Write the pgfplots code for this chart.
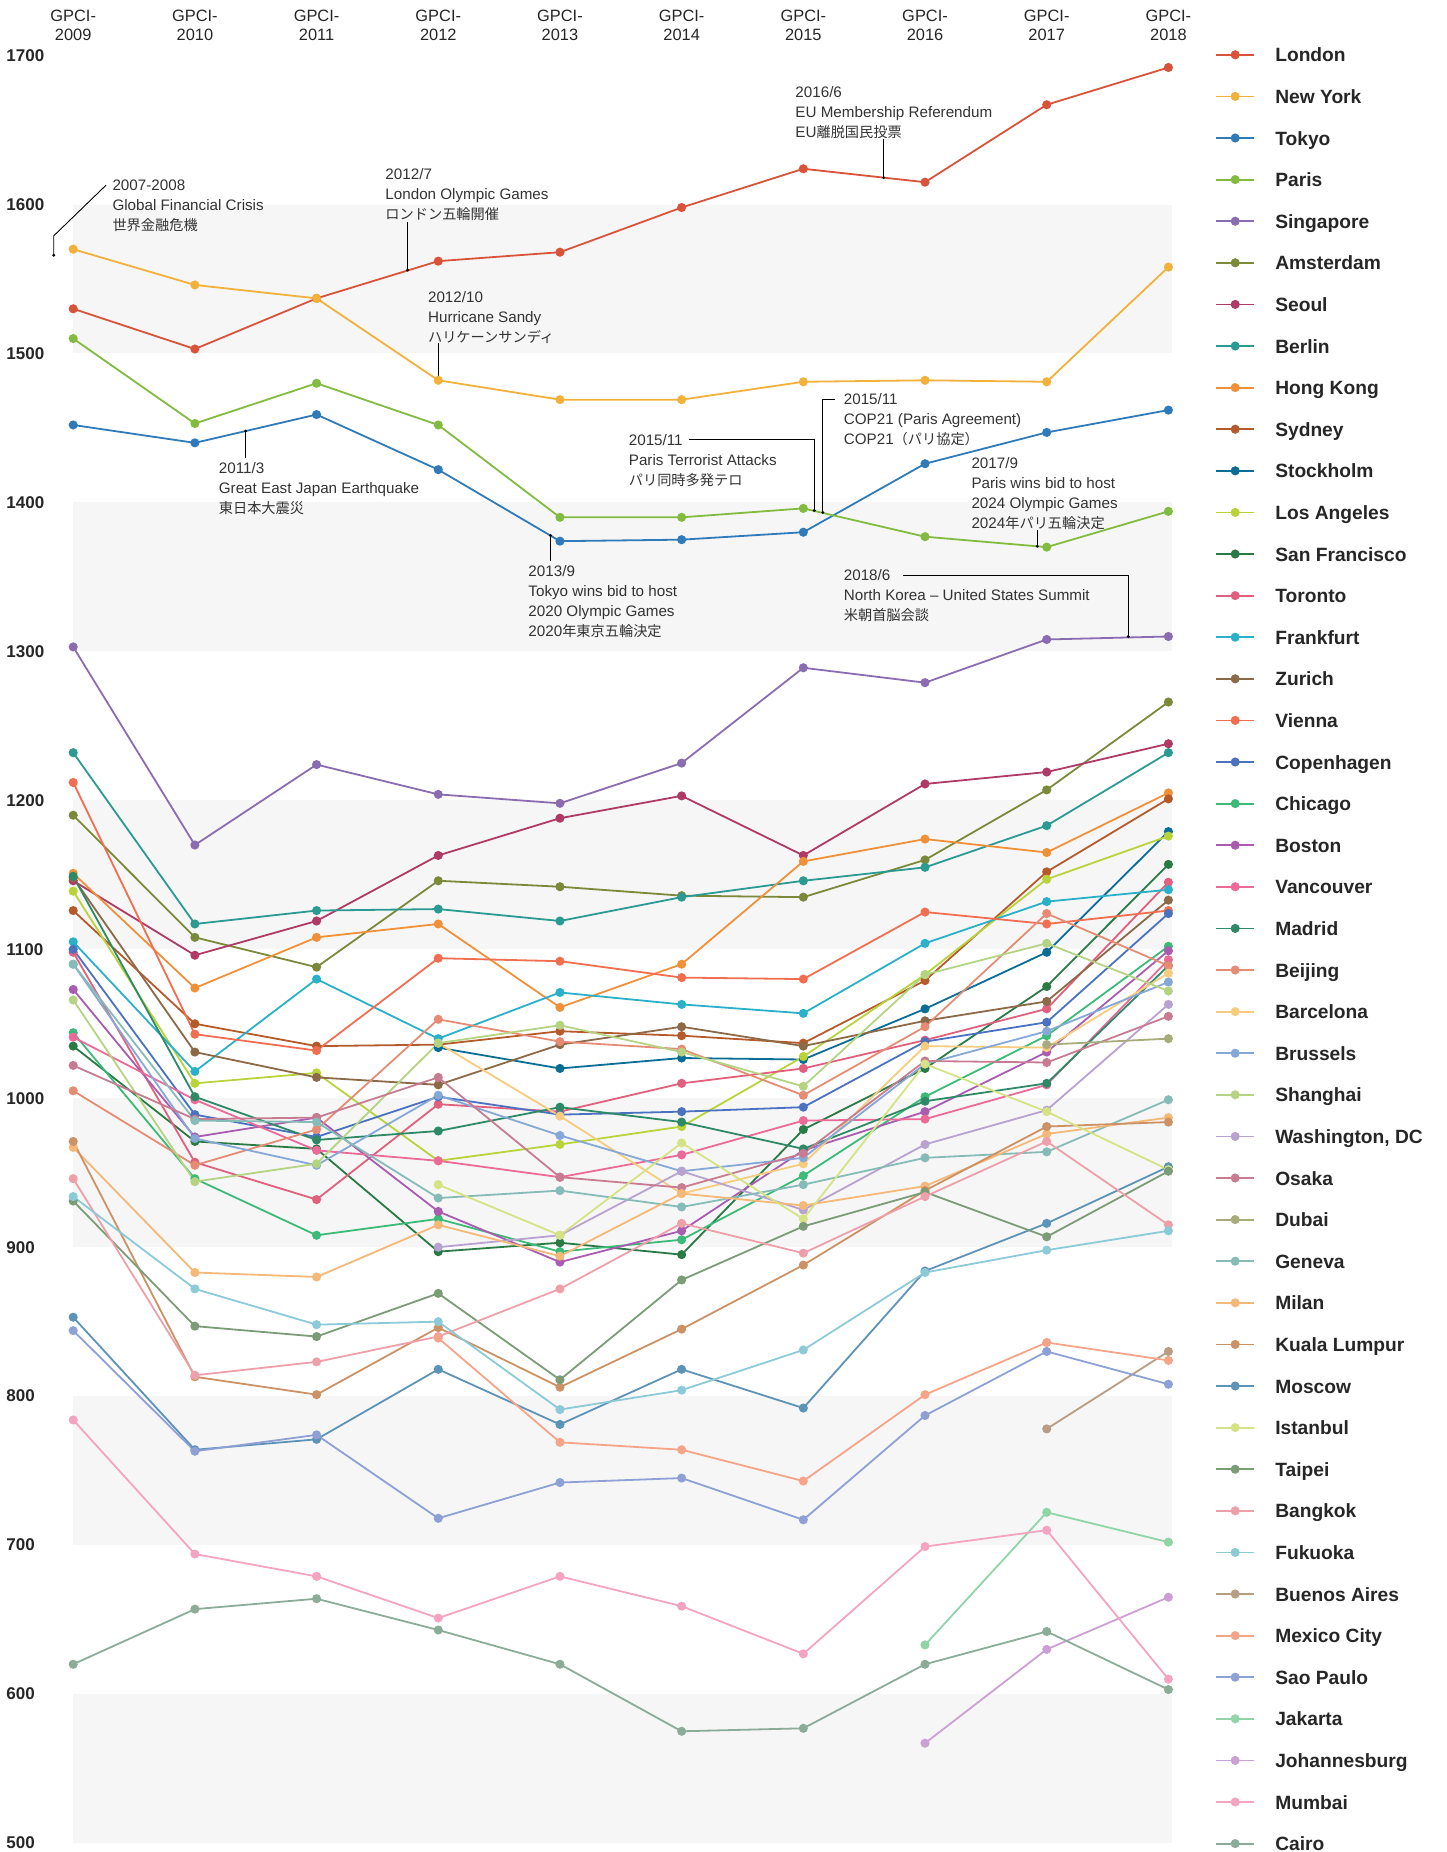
\documentclass[border=0pt]{standalone}
\usepackage{fontspec}
\setmainfont{Liberation Sans}
\newfontfamily\jp{Noto Sans CJK JP}
\usepackage{pgfplots}
\pgfplotsset{compat=1.18}
\definecolor{cLondon}{HTML}{D9533B}
\definecolor{cNewYork}{HTML}{F2B13A}
\definecolor{cTokyo}{HTML}{2F7AB8}
\definecolor{cParis}{HTML}{82BB3F}
\definecolor{cSingapore}{HTML}{8A6DB0}
\definecolor{cAmsterdam}{HTML}{7A8A3A}
\definecolor{cSeoul}{HTML}{B03A66}
\definecolor{cBerlin}{HTML}{2A9A92}
\definecolor{cHongKong}{HTML}{F0913A}
\definecolor{cSydney}{HTML}{B55A2A}
\definecolor{cStockholm}{HTML}{0A6D96}
\definecolor{cLosAngeles}{HTML}{B8D43A}
\definecolor{cSanFrancisco}{HTML}{2A7A45}
\definecolor{cToronto}{HTML}{E0607E}
\definecolor{cFrankfurt}{HTML}{2AB0C8}
\definecolor{cZurich}{HTML}{8C6A48}
\definecolor{cVienna}{HTML}{F26E50}
\definecolor{cCopenhagen}{HTML}{4A72C0}
\definecolor{cChicago}{HTML}{3CBA78}
\definecolor{cBoston}{HTML}{A95CB0}
\definecolor{cVancouver}{HTML}{EC6A98}
\definecolor{cMadrid}{HTML}{2E8A66}
\definecolor{cBeijing}{HTML}{E68C74}
\definecolor{cBarcelona}{HTML}{F6CC7E}
\definecolor{cBrussels}{HTML}{86A8D6}
\definecolor{cShanghai}{HTML}{B4D484}
\definecolor{cWashington}{HTML}{B8A2D0}
\definecolor{cOsaka}{HTML}{C77C92}
\definecolor{cDubai}{HTML}{A8AB7C}
\definecolor{cGeneva}{HTML}{86BCB8}
\definecolor{cMilan}{HTML}{F4B878}
\definecolor{cKualaLumpur}{HTML}{CC9266}
\definecolor{cMoscow}{HTML}{5E93B8}
\definecolor{cIstanbul}{HTML}{D6E384}
\definecolor{cTaipei}{HTML}{7C9C78}
\definecolor{cBangkok}{HTML}{EEA0AA}
\definecolor{cFukuoka}{HTML}{8CCAD8}
\definecolor{cBuenosAires}{HTML}{B89C84}
\definecolor{cMexicoCity}{HTML}{F6A488}
\definecolor{cSaoPaulo}{HTML}{8EA0D4}
\definecolor{cJakarta}{HTML}{90D4A8}
\definecolor{cJohannesburg}{HTML}{CCA0D4}
\definecolor{cMumbai}{HTML}{F4A4C0}
\definecolor{cCairo}{HTML}{8AAC98}
\definecolor{bandgray}{HTML}{F6F6F6}
\definecolor{annot}{HTML}{333333}
\begin{document}
\begin{tikzpicture}
\useasboundingbox (-36.6pt,-4.5pt) rectangle (686.4pt,921.5pt);
\begin{axis}[
  at={(0,0)}, anchor=south west,
  scale only axis, width=547.6pt, height=893.7pt,
  xmin=2009, xmax=2018, ymin=500, ymax=1700,
  clip=false,
  axis line style={draw=none}, major tick length=0pt, tick style={draw=none},
  xtick={2009,2010,2011,2012,2013,2014,2015,2016,2017,2018},
  xticklabel pos=upper,
  xticklabels={{GPCI-\\2009},{GPCI-\\2010},{GPCI-\\2011},{GPCI-\\2012},{GPCI-\\2013},{GPCI-\\2014},{GPCI-\\2015},{GPCI-\\2016},{GPCI-\\2017},{GPCI-\\2018}},
  xticklabel style={align=center, anchor=south, inner sep=0pt, yshift=7.5pt, font=\fontsize{8.2}{9.4}\selectfont, text=black!85},
  ytick={500,600,700,800,900,1000,1100,1200,1300,1400,1500,1600,1700},
  yticklabel style={anchor=west, inner sep=0pt, xshift=-33.6pt, font=\bfseries\fontsize{8.5}{10}\selectfont, text=black!85},
  /pgf/number format/assume math mode=true,
  /pgf/number format/1000 sep={},
  every axis plot post/.append style={line width=0.9pt, mark=*, mark size=1.8pt, mark options={solid}},
  legend image code/.code={
    \draw[#1, mark=none] (0pt,0pt) -- (18.9pt,0pt);
    \draw[#1, only marks] plot coordinates {(9.45pt,0pt)};
    \path[draw=none, fill=none] (0pt,-0.1pt) rectangle (29.5pt,0.1pt);
  },
  legend cell align=left,
  legend style={at={(1,1)}, anchor=north west, xshift=23.3pt, yshift=4.1pt,
    draw=none, fill=none, inner sep=0pt, row sep=13.8pt,
    nodes={inner sep=0pt, text height=7pt, text depth=0pt, font=\bfseries\fontsize{9.6}{10}\selectfont, text=black!85}},
]
% bands
\fill[bandgray] (axis cs:2009,500) rectangle (axis cs:2018.03,600);
\fill[bandgray] (axis cs:2009,700) rectangle (axis cs:2018.03,800);
\fill[bandgray] (axis cs:2009,900) rectangle (axis cs:2018.03,1000);
\fill[bandgray] (axis cs:2009,1100) rectangle (axis cs:2018.03,1200);
\fill[bandgray] (axis cs:2009,1300) rectangle (axis cs:2018.03,1400);
\fill[bandgray] (axis cs:2009,1500) rectangle (axis cs:2018.03,1600);

\addplot[color=cLondon] coordinates {(2009,1530)(2010,1503)(2011,1537)(2012,1562)(2013,1568)(2014,1598)(2015,1624)(2016,1615)(2017,1667)(2018,1692)};
\addlegendentry{London}
\addplot[color=cNewYork] coordinates {(2009,1570)(2010,1546)(2011,1537)(2012,1482)(2013,1469)(2014,1469)(2015,1481)(2016,1482)(2017,1481)(2018,1558)};
\addlegendentry{New York}
\addplot[color=cTokyo] coordinates {(2009,1452)(2010,1440)(2011,1459)(2012,1422)(2013,1374)(2014,1375)(2015,1380)(2016,1426)(2017,1447)(2018,1462)};
\addlegendentry{Tokyo}
\addplot[color=cParis] coordinates {(2009,1510)(2010,1453)(2011,1480)(2012,1452)(2013,1390)(2014,1390)(2015,1396)(2016,1377)(2017,1370)(2018,1394)};
\addlegendentry{Paris}
\addplot[color=cSingapore] coordinates {(2009,1303)(2010,1170)(2011,1224)(2012,1204)(2013,1198)(2014,1225)(2015,1289)(2016,1279)(2017,1308)(2018,1310)};
\addlegendentry{Singapore}
\addplot[color=cAmsterdam] coordinates {(2009,1190)(2010,1108)(2011,1088)(2012,1146)(2013,1142)(2014,1136)(2015,1135)(2016,1160)(2017,1207)(2018,1266)};
\addlegendentry{Amsterdam}
\addplot[color=cSeoul] coordinates {(2009,1146)(2010,1096)(2011,1119)(2012,1163)(2013,1188)(2014,1203)(2015,1163)(2016,1211)(2017,1219)(2018,1238)};
\addlegendentry{Seoul}
\addplot[color=cBerlin] coordinates {(2009,1232)(2010,1117)(2011,1126)(2012,1127)(2013,1119)(2014,1135)(2015,1146)(2016,1155)(2017,1183)(2018,1232)};
\addlegendentry{Berlin}
\addplot[color=cHongKong] coordinates {(2009,1151)(2010,1074)(2011,1108)(2012,1117)(2013,1061)(2014,1090)(2015,1159)(2016,1174)(2017,1165)(2018,1205)};
\addlegendentry{Hong Kong}
\addplot[color=cSydney] coordinates {(2009,1126)(2010,1050)(2011,1035)(2012,1036)(2013,1045)(2014,1042)(2015,1037)(2016,1079)(2017,1152)(2018,1201)};
\addlegendentry{Sydney}
\addplot[color=cStockholm] coordinates {(2012,1034)(2013,1020)(2014,1027)(2015,1026)(2016,1060)(2017,1098)(2018,1179)};
\addlegendentry{Stockholm}
\addplot[color=cLosAngeles] coordinates {(2009,1139)(2010,1010)(2011,1017)(2012,958)(2013,969)(2014,981)(2015,1028)(2016,1083)(2017,1147)(2018,1176)};
\addlegendentry{Los Angeles}
\addplot[color=cSanFrancisco] coordinates {(2009,1035)(2010,971)(2011,966)(2012,897)(2013,903)(2014,895)(2015,979)(2016,1020)(2017,1075)(2018,1157)};
\addlegendentry{San Francisco}
\addplot[color=cToronto] coordinates {(2009,1098)(2010,957)(2011,932)(2012,996)(2013,991)(2014,1010)(2015,1020)(2016,1039)(2017,1060)(2018,1145)};
\addlegendentry{Toronto}
\addplot[color=cFrankfurt] coordinates {(2009,1105)(2010,1018)(2011,1080)(2012,1040)(2013,1071)(2014,1063)(2015,1057)(2016,1104)(2017,1132)(2018,1140)};
\addlegendentry{Frankfurt}
\addplot[color=cZurich] coordinates {(2009,1148)(2010,1031)(2011,1014)(2012,1009)(2013,1036)(2014,1048)(2015,1035)(2016,1052)(2017,1065)(2018,1133)};
\addlegendentry{Zurich}
\addplot[color=cVienna] coordinates {(2009,1212)(2010,1043)(2011,1032)(2012,1094)(2013,1092)(2014,1081)(2015,1080)(2016,1125)(2017,1117)(2018,1126)};
\addlegendentry{Vienna}
\addplot[color=cCopenhagen] coordinates {(2009,1100)(2010,989)(2011,974)(2012,1001)(2013,989)(2014,991)(2015,994)(2016,1038)(2017,1051)(2018,1124)};
\addlegendentry{Copenhagen}
\addplot[color=cChicago] coordinates {(2009,1044)(2010,946)(2011,908)(2012,919)(2013,897)(2014,905)(2015,948)(2016,1001)(2017,1042)(2018,1102)};
\addlegendentry{Chicago}
\addplot[color=cBoston] coordinates {(2009,1073)(2010,974)(2011,987)(2012,924)(2013,890)(2014,911)(2015,965)(2016,991)(2017,1031)(2018,1099)};
\addlegendentry{Boston}
\addplot[color=cVancouver] coordinates {(2009,1041)(2010,999)(2011,965)(2012,958)(2013,947)(2014,962)(2015,985)(2016,986)(2017,1009)(2018,1093)};
\addlegendentry{Vancouver}
\addplot[color=cMadrid] coordinates {(2009,1149)(2010,1001)(2011,972)(2012,978)(2013,994)(2014,984)(2015,966)(2016,998)(2017,1010)(2018,1089)};
\addlegendentry{Madrid}
\addplot[color=cBeijing] coordinates {(2009,1005)(2010,955)(2011,979)(2012,1053)(2013,1038)(2014,1033)(2015,1002)(2016,1048)(2017,1124)(2018,1089)};
\addlegendentry{Beijing}
\addplot[color=cBarcelona] coordinates {(2012,1037)(2013,988)(2014,936)(2015,956)(2016,1035)(2017,1034)(2018,1084)};
\addlegendentry{Barcelona}
\addplot[color=cBrussels] coordinates {(2009,1090)(2010,973)(2011,955)(2012,1002)(2013,975)(2014,951)(2015,960)(2016,1023)(2017,1045)(2018,1078)};
\addlegendentry{Brussels}
\addplot[color=cShanghai] coordinates {(2009,1066)(2010,944)(2011,956)(2012,1037)(2013,1049)(2014,1031)(2015,1008)(2016,1083)(2017,1104)(2018,1072)};
\addlegendentry{Shanghai}
\addplot[color=cWashington] coordinates {(2012,900)(2013,908)(2014,951)(2015,925)(2016,969)(2017,992)(2018,1063)};
\addlegendentry{Washington, DC}
\addplot[color=cOsaka] coordinates {(2009,1022)(2010,986)(2011,987)(2012,1014)(2013,947)(2014,940)(2015,963)(2016,1025)(2017,1024)(2018,1055)};
\addlegendentry{Osaka}
\addplot[color=cDubai] coordinates {(2017,1036)(2018,1040)};
\addlegendentry{Dubai}
\addplot[color=cGeneva] coordinates {(2009,1090)(2010,985)(2011,984)(2012,933)(2013,938)(2014,927)(2015,942)(2016,960)(2017,964)(2018,999)};
\addlegendentry{Geneva}
\addplot[color=cMilan] coordinates {(2009,967)(2010,883)(2011,880)(2012,915)(2013,894)(2014,936)(2015,928)(2016,941)(2017,976)(2018,987)};
\addlegendentry{Milan}
\addplot[color=cKualaLumpur] coordinates {(2009,971)(2010,813)(2011,801)(2012,846)(2013,806)(2014,845)(2015,888)(2016,938)(2017,981)(2018,984)};
\addlegendentry{Kuala Lumpur}
\addplot[color=cMoscow] coordinates {(2009,853)(2010,764)(2011,771)(2012,818)(2013,781)(2014,818)(2015,792)(2016,884)(2017,916)(2018,954)};
\addlegendentry{Moscow}
\addplot[color=cIstanbul] coordinates {(2012,942)(2013,908)(2014,970)(2015,919)(2016,1023)(2017,991)(2018,952)};
\addlegendentry{Istanbul}
\addplot[color=cTaipei] coordinates {(2009,931)(2010,847)(2011,840)(2012,869)(2013,811)(2014,878)(2015,914)(2016,937)(2017,907)(2018,951)};
\addlegendentry{Taipei}
\addplot[color=cBangkok] coordinates {(2009,946)(2010,814)(2011,823)(2012,840)(2013,872)(2014,916)(2015,896)(2016,934)(2017,971)(2018,915)};
\addlegendentry{Bangkok}
\addplot[color=cFukuoka] coordinates {(2009,934)(2010,872)(2011,848)(2012,850)(2013,791)(2014,804)(2015,831)(2016,883)(2017,898)(2018,911)};
\addlegendentry{Fukuoka}
\addplot[color=cBuenosAires] coordinates {(2017,778)(2018,830)};
\addlegendentry{Buenos Aires}
\addplot[color=cMexicoCity] coordinates {(2012,839)(2013,769)(2014,764)(2015,743)(2016,801)(2017,836)(2018,824)};
\addlegendentry{Mexico City}
\addplot[color=cSaoPaulo] coordinates {(2009,844)(2010,763)(2011,774)(2012,718)(2013,742)(2014,745)(2015,717)(2016,787)(2017,830)(2018,808)};
\addlegendentry{Sao Paulo}
\addplot[color=cJakarta] coordinates {(2016,633)(2017,722)(2018,702)};
\addlegendentry{Jakarta}
\addplot[color=cJohannesburg] coordinates {(2016,567)(2017,630)(2018,665)};
\addlegendentry{Johannesburg}
\addplot[color=cMumbai] coordinates {(2009,784)(2010,694)(2011,679)(2012,651)(2013,679)(2014,659)(2015,627)(2016,699)(2017,710)(2018,610)};
\addlegendentry{Mumbai}
\addplot[color=cCairo] coordinates {(2009,620)(2010,657)(2011,664)(2012,643)(2013,620)(2014,575)(2015,577)(2016,620)(2017,642)(2018,603)};
\addlegendentry{Cairo}

% annotation leaders
\begin{scope}[black, line width=0.45pt]
\draw (axis cs:2008.84,1566) -- (axis cs:2008.84,1579) -- (axis cs:2009.27,1613);
\fill (axis cs:2008.84,1566) circle (0.8pt);
\draw (axis cs:2011.748,1588) -- (axis cs:2011.748,1556);
\fill (axis cs:2011.748,1556) circle (0.8pt);
\draw (axis cs:2012.0,1507) -- (axis cs:2012.0,1482);
\fill (axis cs:2012.0,1482) circle (0.8pt);
\draw (axis cs:2010.417,1429.6) -- (axis cs:2010.417,1447.9);
\fill (axis cs:2010.417,1447.9) circle (0.8pt);
\draw (axis cs:2012.922,1360.6) -- (axis cs:2012.922,1377.8);
\fill (axis cs:2012.922,1377.8) circle (0.8pt);
\draw (axis cs:2014.06,1442.3) -- (axis cs:2015.09,1442.3) -- (axis cs:2015.09,1394.6);
\fill (axis cs:2015.09,1394.6) circle (0.8pt);
\draw (axis cs:2015.26,1469.2) -- (axis cs:2015.16,1469.2) -- (axis cs:2015.16,1393.3);
\fill (axis cs:2015.16,1393.3) circle (0.8pt);
\draw (axis cs:2015.66,1643.7) -- (axis cs:2015.66,1618);
\fill (axis cs:2015.66,1618) circle (0.8pt);
\draw (axis cs:2016.922,1381.2) -- (axis cs:2016.922,1370.6);
\fill (axis cs:2016.922,1370.6) circle (0.8pt);
\draw (axis cs:2015.82,1351.1) -- (axis cs:2017.67,1351.1) -- (axis cs:2017.67,1310);
\fill (axis cs:2017.67,1310) circle (0.8pt);
\end{scope}

% annotation texts
\tikzset{ann/.style={anchor=north west, align=left, inner sep=0pt, text=annot, font=\fontsize{7.6}{10}\selectfont}}
\newcommand{\J}[1]{{\jp\fontsize{7.1}{10}\selectfont #1}}
\node[ann] at (axis cs:2009.32,1616.7) {2007-2008\\Global Financial Crisis\\\J{世界金融危機}};
\node[ann] at (axis cs:2011.563,1624.7) {2012/7\\London Olympic Games\\\J{ロンドン五輪開催}};
\node[ann] at (axis cs:2011.913,1542.2) {2012/10\\Hurricane Sandy\\\J{ハリケーンサンディ}};
\node[ann] at (axis cs:2010.194,1427.2) {2011/3\\Great East Japan Earthquake\\\J{東日本大震災}};
\node[ann] at (axis cs:2012.738,1358.2) {2013/9\\Tokyo wins bid to host\\2020 Olympic Games\\2020\J{年東京五輪決定}};
\node[ann] at (axis cs:2013.563,1446.2) {2015/11\\Paris Terrorist Attacks\\\J{パリ同時多発テロ}};
\node[ann] at (axis cs:2015.330,1473.2) {2015/11\\COP21 (Paris Agreement)\\COP21\J{（パリ協定）}};
\node[ann] at (axis cs:2014.932,1679.4) {2016/6\\EU Membership Referendum\\EU\J{離脱国民投票}};
\node[ann] at (axis cs:2016.379,1430.4) {2017/9\\Paris wins bid to host\\2024 Olympic Games\\2024\J{年パリ五輪決定}};
\node[ann] at (axis cs:2015.330,1355.0) {2018/6\\North Korea – United States Summit\\\J{米朝首脳会談}};
\end{axis}
\end{tikzpicture}
\end{document}
